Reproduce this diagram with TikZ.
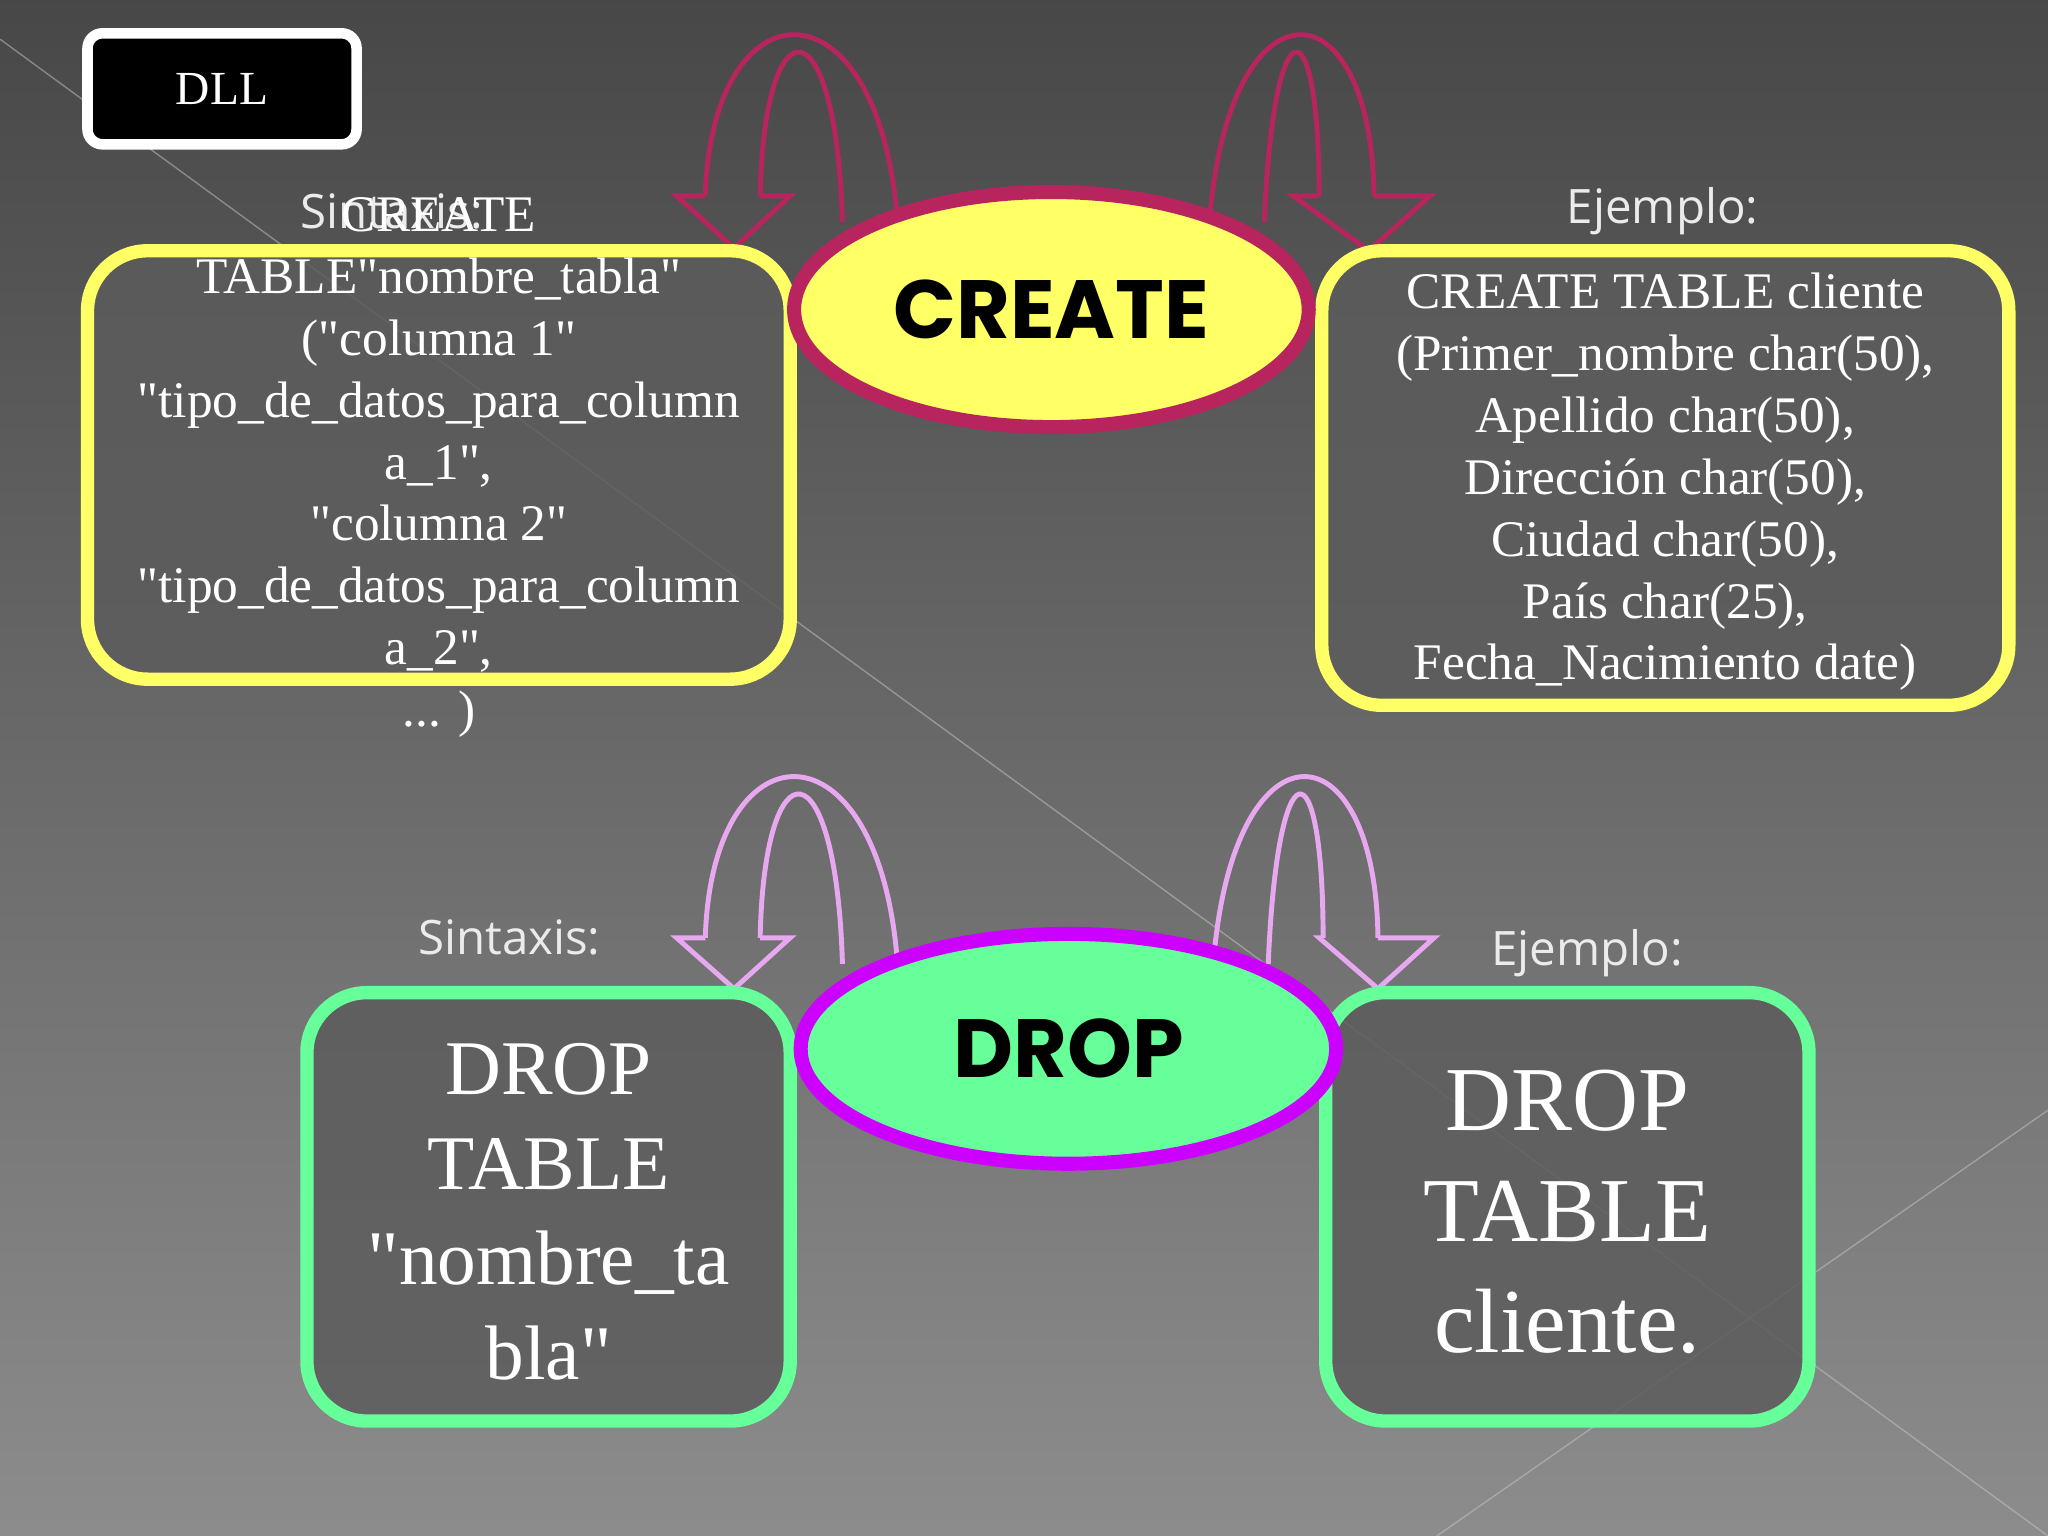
\documentclass[tikz,border=0pt]{standalone}
\usepackage{fontspec}
\setmainfont{Liberation Serif}
\newfontfamily\gsans{Poppins}
\newfontfamily\lsans{Open Sans}
\usetikzlibrary{shapes.geometric}
\newcommand\pxu{0.013061cm}
\newcommand\qq{\textquotedbl}
\definecolor{boxgray}{HTML}{5C5C5C}
\definecolor{ylw}{HTML}{FFFF66}
\definecolor{grn}{HTML}{66FF99}
\definecolor{crim}{HTML}{B8245E}
\definecolor{vio}{HTML}{CC00FF}
\definecolor{lvio}{HTML}{E8A8F0}
\tikzset{
  box/.style={draw, line width=3.8pt, rounded corners=0.6cm, fill=boxgray, fill opacity=0.85, draw opacity=1},
  lab/.style={text=white!92!black, font=\lsans\fontsize{13.5}{16}\selectfont},
  bodytxt/.style={text=white, align=center, font=\fontsize{14.6}{17.6}\selectfont},
  arc/.style={line width=1.4pt},
}
\begin{document}
\begin{tikzpicture}[x=\pxu, y=-\pxu]
\shade[top color=black!72, bottom color=black!45] (0,0) rectangle (1568,1176);
\useasboundingbox (0,0) rectangle (1568,1176);
\draw[white!55!gray, opacity=0.5] (0,30) -- (1568,1176);
\draw[white!55!gray, opacity=0.5] (1568,850) -- (1100,1176);

% DLL
\node[draw=white, line width=3pt, fill=black, rounded corners=0.15cm, minimum width=206*\pxu, minimum height=85*\pxu, text=white, font=\fontsize{13.5}{15}\selectfont] (dll) at (170,68) {DLL};

% top arrows
\begin{scope}[crim, arc]
\draw (688,185) .. controls (680,-20) and (545,-20) .. (540,150);
\draw (645,170) .. controls (640,0) and (585,0) .. (582,150);
\draw (540,150) -- (518,150) -- (562,190) -- (605,150) -- (582,150);
\draw (925,185) .. controls (935,-20) and (1050,-20) .. (1052,150);
\draw (968,170) .. controls (975,0) and (1010,0) .. (1010,150);
\draw (1010,150) -- (990,150) -- (1048,192) -- (1095,150) -- (1052,150);
\end{scope}
% bottom arrows
\begin{scope}[lvio, arc]
\draw (688,753) .. controls (680,548) and (545,548) .. (540,718);
\draw (645,738) .. controls (640,568) and (585,568) .. (582,718);
\draw (540,718) -- (518,718) -- (562,757) -- (605,718) -- (582,718);
\draw (928,753) .. controls (938,548) and (1053,548) .. (1055,718);
\draw (971,738) .. controls (978,568) and (1013,568) .. (1013,718);
\draw (1013,718) -- (1010,718) -- (1055,757) -- (1098,718) -- (1055,718);
\end{scope}

% boxes
\node[box, draw=ylw, minimum width=538*\pxu, minimum height=328*\pxu] (lbox) at (336,356) {};
\node[box, draw=ylw, minimum width=526*\pxu, minimum height=348*\pxu] (rbox) at (1275,366) {};
\node[box, draw=grn, minimum width=370*\pxu, minimum height=328*\pxu] (dlbox) at (420,924) {};
\node[box, draw=grn, minimum width=370*\pxu, minimum height=328*\pxu] (drbox) at (1200,924) {};

% ellipses
\node[ellipse, draw=crim, line width=4pt, fill=ylw, minimum width=394*\pxu, minimum height=180*\pxu, font=\gsans\bfseries\fontsize{23.5}{26}\selectfont] (create) at (805,237) {CREATE};
\node[ellipse, draw=vio, line width=4pt, fill=grn, minimum width=410*\pxu, minimum height=176*\pxu, font=\gsans\bfseries\fontsize{23.5}{26}\selectfont] (drop) at (818,803) {DROP};

% labels
\node[lab] (sx1) at (300,162) {Sintaxis:};
\node[lab] (ej1) at (1273,162) {Ejemplo:};
\node[lab] (sx2) at (390,718) {Sintaxis:};
\node[lab] (ej2) at (1215,730) {Ejemplo:};

% texts
\node[bodytxt] (ltxt) at (336,358) {CREATE\\TABLE\qq nombre\_tabla\qq\\(\qq columna 1\qq\\\qq tipo\_de\_datos\_para\_column\\a\_1\qq,\\\qq columna 2\qq\\\qq tipo\_de\_datos\_para\_column\\a\_2\qq,\\... )};
\node[bodytxt] (rtxt) at (1275,369) {CREATE TABLE cliente\\(Primer\_nombre char(50),\\Apellido char(50),\\Dirección char(50),\\Ciudad char(50),\\País char(25),\\Fecha\_Nacimiento date)};
\node[bodytxt, font=\fontsize{22}{27}\selectfont] (dltxt) at (420,928) {DROP\\TABLE\\\qq nombre\_ta\\bla\qq};
\node[bodytxt, font=\fontsize{26}{31.5}\selectfont] (drtxt) at (1200,928) {DROP\\TABLE\\cliente.};
\end{tikzpicture}
\end{document}
